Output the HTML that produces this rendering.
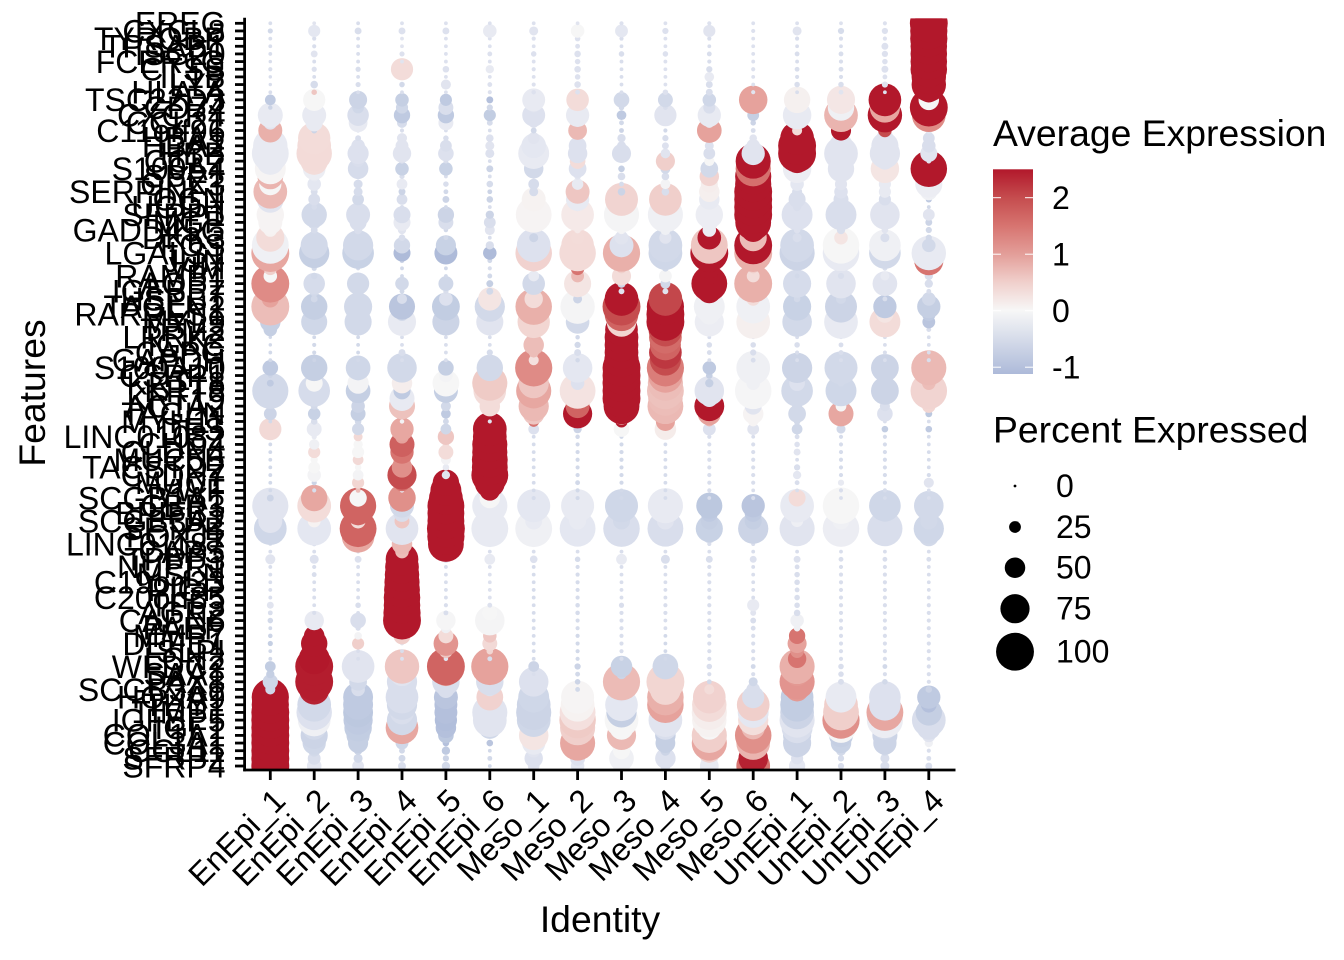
<!DOCTYPE html>
<html lang="en">
<head>
<meta charset="utf-8">
<title>Dot plot of marker gene expression</title>
<style>
html,body{margin:0;padding:0;background:#fff;}
svg{display:block;font-family:"Liberation Sans",Arial,Helvetica,sans-serif;}
</style>
</head>
<body>
<svg id="chart" width="1344" height="960" viewBox="0 0 1344 960" xmlns="http://www.w3.org/2000/svg">
<defs>
<clipPath id="panel-clip"><rect x="245" y="18.4" width="711" height="751.6"></rect></clipPath>
<linearGradient id="cbar" x1="0" y1="1" x2="0" y2="0">
<stop offset="0" stop-color="#adbad9"/><stop offset="0.31" stop-color="#f7f7f7"/><stop offset="0.45" stop-color="#f0cfcb"/><stop offset="0.586" stop-color="#e39e99"/><stop offset="0.724" stop-color="#d77470"/><stop offset="0.862" stop-color="#c54c4e"/><stop offset="1" stop-color="#b2182b"/>
</linearGradient>
</defs>
<g id="dots" clip-path="url(#panel-clip)"></g>
<g id="axes"></g>
<text transform="translate(45,393) rotate(-90)" text-anchor="middle" font-size="37.33">Features</text>
<text x="600" y="932" text-anchor="middle" font-size="37.33">Identity</text>
<g>
<text x="993" y="146" font-size="37.33">Average Expression</text>
<rect x="993" y="169.3" width="40" height="204.7" fill="url(#cbar)"></rect>
<g id="cbar-ticks"></g>
</g>
<g id="size-legend">
<text x="993" y="442.5" font-size="37.33">Percent Expressed</text>
</g>
</svg>
<script>
const idents = ["EnEpi_1","EnEpi_2","EnEpi_3","EnEpi_4","EnEpi_5","EnEpi_6","Meso_1","Meso_2","Meso_3","Meso_4","Meso_5","Meso_6","UnEpi_1","UnEpi_2","UnEpi_3","UnEpi_4"];
const features = ["EREG","CXCL8","TYROBP","TPSAB1","ISG20","FCER1G","CTSS","IL1B","LYZ","HLA-A",
"TSC22D3","CD74","CXCR4","CCL21","C11orf96","HBA1","HBA2","HBB","CCL2","S100A4",
"SPP1","GPX3","SERPINF1","OGN","UGDH","SFRP1","MGP","GADD45G","DKK3","FOS",
"LGALS1","JUN","VIM","RAMP1","AQP1","IGFBP7","HSPB1","TAGLN2","RARRES1","MYL9",
"TPM2","LRRK2","IGKC","CAPG","GAPDH","S100A10","CSRP1","KRT18","KRT8","KRT19",
"ACTA2","TAGLN","MYH11","DES","LINC01082","CHD4","CLDN4","MUC5B","TACSTD2","CLDN7",
"MUC1","VWF","SCGB1A1","CBR3","BPIFB1","SCGB3A2","SFTPB","FOXJ1","LINC01187","CAPS",
"TPPP3","NUPR1","MSLN","C19orf33","PIGR","C20orf85","TFF3","AGR2","CAPN6","PAEP",
"MMP7","DEFB1","SLPI","LCN2","WFDC2","SAA1","PAX8","SCGB3A1","HOXA9","THY1",
"TIMP1","IGFBP5","IGF1","COL1A1","COL3A1","CCL11","SFRP2","SFRP4"];

const pct_EnEpi_1 = [2,6,2,2,2,1,3,1,1,2,
22,4,63,30,60,60,90,97,70,80,
65,55,88,68,20,70,60,30,72,97,
100,30,30,30,100,40,40,100,40,50,
30,1,1,2,2,36,5,11,95,40,
15,28,2,55,2,2,2,2,2,2,
2,2,11,95,60,60,85,30,2,2,
20,2,2,2,2,2,11,5,7,2,
4,6,2,2,22,15,35,20,98,98,
100,100,100,100,100,100,100,100];
const exp_EnEpi_1 = [-.4,-.5,-.4,-.4,-.4,-.4,-.4,-.4,-.4,-.4,
-.8,-.6,-.2,-.3,.85,-.2,-.2,-.2,-.2,.02,
.8,0,.75,-.3,-.3,.03,.03,.05,.3,-.1,
.95,.5,.5,0,1.25,1,1,.7,-.6,-.7,
-.7,-.5,-.5,-.5,-.5,-.8,-.6,-.8,-.5,-.5,
-.6,-.6,-.5,.35,-.5,-.5,-.5,-.5,-.5,-.5,
-.5,-.5,-.6,-.3,-.3,-.3,-.55,-.4,-.4,-.4,
-.3,-.4,-.4,-.4,-.4,-.4,-.3,-.4,-.5,-.5,
-.6,-.7,-.5,-.5,-.75,-.7,-.55,-.55,2.5,2.5,
2.5,2.5,2.5,2.5,2.5,2.5,2.5,2.5];

const pct_EnEpi_2 = [2,26,3,3,11,2,6,2,13,7,
55,40,60,40,8,84,88,93,70,56,
20,30,11,25,7,64,30,11,30,69,
78,20,6,10,53,20,11,67,30,66,
20,2,3,3,2,67,20,40,82,30,
11,27,10,34,6,21,26,12,25,30,
6,3,67,88,40,28,88,30,5,2,
17,3,5,2,2,2,2,3,47,20,
50,67,60,80,100,90,100,78,70,88,
93,85,60,69,58,25,28,33];
const exp_EnEpi_2 = [-.3,-.25,-.4,-.4,-.3,-.4,-.35,-.4,-.45,.6,
0,-.2,-.2,-.2,-.6,.3,.32,.32,.3,-.15,
-.2,-.25,-.4,-.4,-.45,-.5,-.45,-.45,-.5,-.5,
-.7,-.5,-.5,-.5,-.45,-.5,-.5,-.7,-.55,-.55,
-.55,-.5,-.5,-.5,-.6,-.7,-.2,0,-.45,-.4,
-.5,-.65,-.4,-.2,-.2,-.1,.3,0,0,-.05,
-.6,-.4,.95,.3,.3,.05,-.25,-.3,-.4,-.4,
-.35,-.4,-.4,-.4,-.4,-.4,-.4,-.4,-.2,2.5,
2.5,2.5,2.5,2.5,2.45,2.45,2.45,2.4,-.5,-.5,
-.35,-.1,-.5,-.6,-.55,-.5,-.4,-.25];

const pct_EnEpi_3 = [2,11,2,2,2,2,6,2,6,2,
43,25,53,45,3,8,30,52,25,50,
8,17,17,25,2,60,40,15,6,78,
82,3,3,10,55,10,11,72,30,69,
10,2,2,2,2,62,20,52,62,30,
30,34,10,26,17,18,26,22,10,22,
26,5,41,95,60,34,97,85,30,2,
11,2,2,2,2,2,7,2,36,6,
13,26,2,2,85,30,42,30,77,77,
77,75,70,58,49,15,17,25];
const exp_EnEpi_3 = [-.4,-.4,-.4,-.4,-.4,-.4,-.4,-.4,-.4,-.4,
-.6,-.55,-.4,-.2,-.4,-.4,-.35,-.35,-.4,-.45,
-.45,-.45,-.45,-.5,-.4,-.4,-.4,-.4,-.5,-.5,
-.65,-.5,-.5,-.5,-.5,-.5,-.5,-.5,-.5,-.5,
-.5,-.5,-.5,-.5,-.5,-.55,-.3,-.05,-.7,-.6,
-.6,-.7,-.5,-.5,.35,0,0,.35,0,-.05,
.4,.7,0,1.7,1.7,.3,1.7,.95,.8,-.4,
-.35,-.4,-.4,-.4,-.4,-.4,-.4,-.4,-.4,-.4,
-.05,.5,-.4,-.4,-.3,-.3,-.5,-.4,-.8,-.8,
-.85,-.8,-.75,-.7,-.7,-.6,-.5,-.3];

const pct_EnEpi_4 = [2,11,2,2,6,2,55,2,7,2,
30,26,38,20,3,20,28,44,6,30,
6,22,11,22,3,40,40,15,10,38,
40,5,2,2,30,5,20,66,30,72,
20,2,2,11,2,76,20,50,40,63,
66,5,4,58,30,63,58,40,50,75,
40,4,70,60,40,34,85,35,50,30,
85,88,90,92,94,96,96,98,100,58,
40,2,2,2,90,60,78,50,85,78,
60,78,85,40,28,8,11,14];
const exp_EnEpi_4 = [-.35,-.35,-.3,-.3,-.35,-.3,.3,-.4,-.5,-.4,
-.7,-.55,-.8,-.45,-.4,-.3,-.3,-.3,-.4,-.65,
-.4,-.2,-.6,-.4,-.4,-.4,-.2,-.3,-.4,-.5,
-1.1,-.6,-.5,-.5,-.5,-.5,-.4,-.9,-.5,-.2,
-.3,-.4,-.4,-.4,-.4,-.5,-.1,.1,-.8,-.2,
.65,.5,-.05,.95,1,1.75,1.5,1.2,1.2,2,
1.5,-.2,1.2,-.5,-.4,.6,-.3,-.4,.75,.7,
2.5,2.5,2.5,2.5,2.5,2.5,2.5,2.5,2.5,.6,
.5,-.3,-.4,-.35,.6,-.3,-.4,-.4,-.4,-.5,
-.4,-.5,.95,.9,-.55,-.5,-.5,-.4];

const pct_EnEpi_5 = [2,11,2,2,2,2,10,2,20,2,
26,34,38,34,2,7,25,36,5,30,
2,7,5,11,2,38,34,4,5,49,
57,3,2,2,34,6,30,71,30,69,
15,2,2,2,2,36,30,68,60,20,
20,19,8,22,38,10,34,20,10,15,
67,80,88,97,97,97,100,98,94,20,
12,2,2,2,2,2,3,5,47,20,
34,62,30,4,100,60,70,40,60,57,
57,55,50,36,10,15,9,15];
const exp_EnEpi_5 = [-.35,-.35,-.35,-.35,-.35,-.35,-.35,-.35,-.3,-.35,
-.8,-.4,-.8,-.2,-.4,-.4,-.4,-.35,-.4,-.65,
-.4,-.4,-.5,-.6,-.5,-.6,-.4,-.5,-.5,-.65,
-1.1,-.5,-.5,-.5,-.55,-.4,-.35,-.75,-.6,-.6,
-.6,-.4,-.4,-.4,-.4,-.7,-.05,0,-.7,-.6,
-.5,-.8,-.5,-.55,.6,.3,.3,-.05,-.2,-.3,
2.5,2.5,2.5,2.5,2.5,2.5,2.5,2.5,2.5,-.35,
-.35,-.4,-.4,-.4,-.4,-.4,-.4,-.4,-.02,-.1,
.3,1.15,.6,-.3,1.7,1,-.4,-.4,-.9,-1,
-1,-1.05,-1,-.85,-1,-.8,-.6,-.5];

const pct_EnEpi_6 = [2,30,2,2,5,2,15,2,5,3,
11,9,26,8,2,13,17,17,2,11,
2,10,5,10,2,15,25,20,2,15,
30,5,3,5,11,11,58,78,30,69,
10,2,2,9,2,67,15,92,85,40,
50,2,3,88,88,92,92,94,94,97,
78,50,50,92,60,60,97,40,5,2,
22,2,2,2,2,2,5,34,76,20,
30,34,10,5,98,50,70,30,68,50,
92,88,55,5,10,2,5,2];
const exp_EnEpi_6 = [-.35,-.2,-.35,-.35,-.35,-.35,-.2,-.35,-.35,-.35,
-1,-.5,-.75,-.45,-.4,-.35,-.3,-.35,-.4,-.6,
-.4,-.45,-.6,-.6,-.4,-.6,-.4,-.3,-.4,-.4,
-1.1,-.5,-.4,-.5,-.7,-.5,.2,-.5,-.4,-.3,
-.4,-.4,-.4,-.45,-.5,-.5,-.5,.55,.3,.3,
.3,-.3,-.3,2.5,2.5,2.5,2.5,2.5,2.5,2.5,
2.5,2.5,0,-.2,-.2,-.2,-.2,-.3,-.4,-.4,
-.2,-.35,-.35,-.35,-.35,-.35,-.35,0,-.03,0,
.6,.35,.4,-.4,1,.8,-.4,-.35,.45,-.3,
-.3,-.3,-.55,-.5,-.9,-.5,-.5,-.5];

const pct_Meso_1 = [2,17,3,2,7,2,3,2,3,4,
57,20,57,20,8,25,62,80,20,47,
5,22,17,60,2,94,40,2,17,88,
96,20,10,22,56,10,44,96,50,84,
30,30,50,20,20,98,30,78,92,50,
78,53,22,22,2,2,2,2,2,2,
2,2,3,86,40,40,97,30,5,2,
13,2,2,2,2,2,2,2,2,2,
2,2,2,2,22,2,76,30,80,88,
92,88,40,76,58,30,44,25];
const exp_Meso_1 = [-.35,-.3,-.35,-.35,-.35,-.35,-.35,-.35,-.35,-.35,
-.2,-.3,-.35,-.35,-.5,-.3,-.25,-.2,-.3,-.5,
-.4,-.45,-.45,.05,-.4,.03,.03,.03,-.6,-.35,
.45,.4,.4,-.2,-.5,.3,.3,.85,.4,.4,
.7,.7,.7,.7,.25,1.25,.6,.6,.95,.8,
.75,.6,1.5,-.35,-.45,-.45,-.45,-.45,-.45,-.45,
-.45,-.45,-.45,-.25,-.2,-.2,-.1,-.2,-.3,-.4,
-.35,-.45,-.45,-.45,-.45,-.45,-.45,-.45,-.45,-.45,
-.45,-.45,-.45,-.45,-.6,-.4,-.35,-.4,-.55,-.6,
-.6,-.55,-.5,.2,-.2,-.3,-.35,-.3];

const pct_Meso_2 = [2,30,7,5,10,7,10,7,10,5,
56,30,58,15,45,15,42,47,36,42,
10,24,60,58,15,85,30,10,28,85,
96,20,30,28,69,10,17,90,30,59,
10,4,9,11,4,76,30,30,94,30,
60,75,25,15,4,3,3,3,3,3,
5,3,3,86,40,40,94,30,3,2,
7,3,3,3,3,3,4,4,3,3,
3,3,3,3,9,5,7,5,86,88,
94,96,92,32,92,46,34,30];
const exp_Meso_2 = [-.3,0,-.35,-.35,-.35,-.35,-.35,-.35,-.35,-.35,
.3,-.2,-.2,-.3,.75,-.35,-.35,-.35,.3,-.35,
-.3,-.2,.6,-.2,-.3,.15,.15,.15,.3,.32,
.32,.3,1.5,.75,.2,-.4,-.6,-.03,-.4,-.5,
-.5,-.5,-.5,-.4,-.5,-.25,-.3,-.35,.22,.2,
1.7,2.5,2.4,-.6,-.5,-.5,-.5,-.5,-.5,-.5,
-.5,-.5,-.5,-.2,-.2,-.2,-.25,-.25,-.4,-.4,
-.45,-.45,-.45,-.45,-.45,-.45,-.45,-.45,-.45,-.45,
-.5,-.5,-.5,-.5,-.6,-.5,-.6,-.5,.02,.05,
.25,.55,.5,.2,.95,-.3,-.35,-.25];

const pct_Meso_3 = [3,28,3,2,7,2,2,2,2,2,
36,7,19,5,5,15,17,46,2,10,
13,5,13,86,20,92,40,15,30,60,
98,30,20,46,15,8,88,100,88,76,
85,88,88,88,90,100,100,100,100,100,
94,53,26,36,3,3,3,3,3,3,
3,2,2,86,40,40,96,30,4,2,
22,2,2,2,2,2,6,3,3,3,
3,3,3,3,53,20,98,60,60,85,
78,88,60,75,50,40,62,40];
const exp_Meso_3 = [-.35,-.25,-.4,-.4,-.4,-.4,-.4,-.4,-.4,-.4,
-.5,-.5,-.8,-.5,-.6,-.4,-.4,-.4,-.5,-.7,
-.4,-.45,-.6,.42,-.1,-.03,-.03,-.05,-.3,-.35,
.85,.6,.5,.3,-.6,-.3,2.5,2,1.7,.4,
2.5,2.5,2.5,2.5,2.5,2.5,2.5,2.5,2.5,2.5,
2.5,.7,2.5,0,-.5,-.5,-.5,-.5,-.5,-.5,
-.5,-.5,-.5,-.55,-.55,-.5,-.4,-.4,-.4,-.4,
-.2,-.4,-.4,-.4,-.4,-.4,-.4,-.4,-.4,-.4,
-.4,-.4,-.4,-.4,-.65,-.6,.72,-.3,-.25,-.25,
-.7,0,0,.75,0,0,-.1,-.1];

const pct_Meso_4 = [2,9,2,2,7,2,2,2,2,7,
34,5,55,2,3,9,11,19,46,20,
13,20,13,85,10,92,40,20,26,88,
88,15,10,28,20,8,88,98,100,100,
88,85,80,85,80,98,90,92,97,90,
94,36,46,53,2,2,2,2,2,2,
2,2,2,92,40,40,94,30,4,2,
17,2,2,2,2,2,3,3,2,2,
2,2,2,2,65,20,100,80,96,96,
80,88,60,50,48,20,50,20];
const exp_Meso_4 = [-.35,-.35,-.35,-.35,-.35,-.35,-.35,-.35,-.35,-.35,
-.5,-.4,-.3,-.4,-.5,-.4,-.35,-.3,.5,-.5,
-.4,-.05,-.4,.5,-.1,-.1,-.1,-.1,-.3,-.5,
-.55,-.5,-.5,-.03,-.5,-.3,2.05,2.5,2.5,2.5,
2,1.6,1.7,2.2,2,1.4,1,.7,.65,.7,
.75,-.7,1,.12,-.45,-.45,-.45,-.45,-.45,-.45,
-.45,-.45,-.45,-.2,-.2,-.3,-.4,-.4,-.4,-.4,
-.4,-.4,-.4,-.4,-.4,-.4,-.4,-.4,-.4,-.4,
-.5,-.5,-.5,-.5,-.55,-.5,.4,.4,.85,1,
-.3,-.3,-.4,-.7,-.7,-.6,-.35,-.35];

const pct_Meso_5 = [3,26,3,2,5,3,9,19,11,11,
30,26,58,20,62,20,17,25,20,42,
47,40,50,50,40,70,40,30,59,97,
100,60,50,40,94,60,10,80,50,75,
30,2,7,5,2,30,10,15,76,40,
77,57,20,28,3,3,3,3,3,3,
3,3,2,66,40,40,69,30,3,2,
11,3,3,3,3,3,3,3,3,3,
3,3,3,3,7,3,5,20,85,90,
92,90,60,92,92,60,40,45];
const exp_Meso_5 = [-.35,-.3,-.4,-.4,-.4,-.4,-.4,-.2,-.4,-.4,
-.55,-.4,-.2,-.2,1,-.3,-.35,-.4,0,-.5,
.42,.1,.08,-.2,-.15,-.15,-.15,-.15,2.5,.6,
2.5,2.5,2.5,2.5,2.5,2.5,-.1,-.1,-.1,-.15,
-.2,-.4,-.4,-.4,-.4,-.8,-.7,-.7,-.3,-.3,
2.5,1,.8,-.35,-.4,-.4,-.4,-.4,-.4,-.4,
-.4,-.4,-.4,-.85,-.8,-.7,-.65,-.5,-.4,-.4,
-.4,-.4,-.4,-.4,-.4,-.4,-.4,-.4,-.4,-.4,
-.4,-.4,-.4,-.4,-.4,-.4,-.5,.3,.45,.3,
.1,.05,0,.5,.95,.5,-.2,-.2];

const pct_Meso_6 = [2,3,2,2,2,2,3,2,2,3,
73,20,25,7,5,13,30,58,92,92,
95,95,100,100,100,100,94,60,69,100,
100,30,20,28,100,30,30,88,30,88,
30,2,7,9,5,88,40,30,96,40,
40,50,20,25,2,3,3,3,3,3,
3,2,3,58,40,40,78,30,3,2,
11,2,2,2,2,2,26,8,8,5,
3,3,3,3,5,3,17,30,55,85,
80,78,58,96,88,40,76,88];
const exp_Meso_6 = [-.35,-.35,-.35,-.35,-.35,-.35,-.35,-.35,-.35,-.3,
1,-.5,-.7,-.6,-.4,-.3,-.3,-.3,2.5,1.55,
2.5,2.5,2.5,2.5,2.5,2.5,2.5,2.5,.7,2.5,
.85,.7,.5,.3,.85,.3,.3,-.1,-.1,.08,
.1,-.4,-.4,-.4,-.4,-.1,-.1,-.1,-.02,-.02,
-.3,.03,.03,-.3,-.4,-.4,-.4,-.4,-.4,-.4,
-.4,-.4,-.4,-.9,-.8,-.7,-.6,-.5,-.4,-.4,
-.35,-.4,-.4,-.4,-.4,-.4,-.2,-.3,-.4,-.4,
-.4,-.4,-.4,-.4,-.5,-.4,-.55,-.4,-.4,.5,
-.25,.28,.75,1.2,.8,.8,2.4,1.5];

const pct_UnEpi_1 = [2,17,3,2,5,2,5,3,7,2,
67,40,73,20,20,88,100,100,60,73,
20,30,20,40,15,80,30,10,17,88,
92,10,5,5,72,10,10,72,40,76,
20,2,7,3,2,78,15,36,82,30,
20,42,10,22,5,7,11,2,9,15,
5,2,40,88,40,26,92,30,3,2,
11,5,7,7,5,7,7,10,30,10,
38,46,30,44,92,60,92,60,85,88,
88,92,80,72,72,30,26,38];
const exp_UnEpi_1 = [-.35,-.3,-.4,-.4,-.4,-.4,-.4,-.4,-.4,-.4,
.07,-.2,-.2,-.2,.3,2.5,2.5,2.5,2.5,-.15,
-.2,-.25,-.4,-.4,-.4,-.35,-.35,-.35,-.4,-.5,
-.6,-.5,-.5,-.5,-.45,-.5,-.5,-.65,-.5,-.5,
-.5,-.4,-.4,-.4,-.4,-.6,-.4,-.35,-.5,-.5,
-.5,-.5,-.5,-.55,-.4,-.35,-.3,-.4,-.4,-.25,
-.4,-.4,.3,-.2,-.2,-.12,-.3,-.3,-.4,-.4,
-.35,-.4,-.4,-.4,-.4,-.4,-.4,-.4,-.1,-.1,
1.5,1,1.2,1.5,.85,1.1,1.15,1.1,-.75,-.75,
-.6,-.3,-.4,-.6,-.6,-.5,-.35,-.25];

const pct_UnEpi_2 = [2,9,3,2,5,3,5,3,7,5,
72,67,88,30,49,30,60,88,50,67,
20,26,30,34,10,80,30,15,30,96,
96,10,10,9,76,10,20,83,30,88,
30,2,5,5,2,86,20,11,80,30,
22,63,10,17,3,3,3,3,3,3,
9,3,2,96,40,40,96,30,3,2,
5,3,3,3,3,3,3,3,3,3,
3,3,3,3,7,7,8,30,80,88,
94,98,78,60,50,20,9,9];
const exp_UnEpi_2 = [-.35,-.45,-.4,-.4,-.4,-.4,-.4,-.4,-.4,-.3,
.18,-.1,.8,.8,2.5,-.3,-.3,-.3,-.3,-.3,
-.3,-.3,-.35,-.4,-.4,-.4,-.4,-.4,.2,0,
-.2,-.3,-.4,-.4,-.3,-.4,-.5,-.6,-.4,-.2,
-.2,-.4,-.4,-.4,-.4,-.5,-.5,-.5,-.55,-.5,
0,.95,.5,-.5,-.45,-.45,-.45,-.45,-.45,-.45,
-.2,-.4,-.4,0,0,-.1,-.15,-.15,-.4,-.4,
-.4,-.4,-.4,-.4,-.4,-.4,-.4,-.4,-.4,-.4,
-.4,-.4,-.4,-.4,-.4,-.4,-.4,-.2,-.2,.5,
.5,1.2,0,-.7,-.65,-.5,-.45,-.4];

const pct_UnEpi_3 = [3,9,3,11,9,7,11,5,9,2,
85,78,90,30,30,40,69,78,40,73,
30,26,26,26,10,76,30,10,17,82,
82,15,5,17,62,5,5,58,40,80,
20,2,2,3,2,71,15,11,71,20,
20,36,2,10,3,3,3,3,3,3,
3,3,2,82,40,40,92,30,3,2,
5,3,3,3,3,3,3,3,3,3,
3,3,3,3,5,3,7,30,82,82,
97,95,60,63,58,20,17,17];
const exp_UnEpi_3 = [-.35,-.35,-.35,-.35,-.35,-.35,-.35,-.35,-.3,-.35,
2.5,.95,2.5,2.5,2,-.3,-.3,-.3,-.3,.2,
-.2,-.2,-.2,-.4,-.3,-.3,-.3,-.3,-.4,-.1,
-.5,-.5,-.4,-.2,-.3,-.4,-.4,-.8,.2,.3,
.2,-.4,-.4,-.4,-.4,-.6,-.5,-.6,-.6,-.4,
-.4,-.35,-.4,-.75,-.45,-.45,-.45,-.45,-.45,-.45,
-.45,-.45,-.45,-.55,-.5,-.4,-.4,-.4,-.4,-.4,
-.4,-.4,-.4,-.4,-.4,-.4,-.4,-.4,-.4,-.4,
-.4,-.4,-.4,-.4,-.5,-.4,-.5,-.35,-.35,-.35,
.95,-.15,-.5,-.6,-.6,-.5,-.4,-.4];

const pct_UnEpi_4 = [100,98,98,96,96,96,96,90,90,50,
50,100,88,30,10,25,30,40,5,96,
50,69,40,9,2,25,11,9,9,30,
90,75,15,15,15,5,30,58,30,28,
5,2,2,2,3,92,40,30,96,30,
30,11,2,10,2,2,2,2,2,3,
20,2,2,76,40,40,78,48,3,2,
5,2,2,2,2,2,3,3,3,3,
3,3,3,3,3,3,3,10,58,36,
67,88,60,30,15,3,5,11];
const exp_UnEpi_4 = [2.5,2.5,2.5,2.5,2.5,2.5,2.5,2.5,2.5,2.5,
0,2.5,1.25,.8,-.3,-.4,-.4,-.3,-.3,2.5,
0,-.15,-.1,-.8,-.5,-.3,-.6,-.5,-.5,-.5,
-.2,1.5,-.3,-.4,-.4,-.4,-.5,-.7,-.8,-.9,
-.4,-.4,-.4,-.4,-.4,.75,.75,.7,.42,.4,
.4,-.85,-.4,-.8,-.45,-.45,-.45,-.45,-.45,-.45,
-.3,-.4,-.4,-.5,-.5,-.5,-.55,-.5,-.4,-.4,
-.4,-.4,-.4,-.4,-.4,-.4,-.4,-.4,-.4,-.4,
-.4,-.4,-.4,-.4,-.4,-.4,-.4,-.6,-.8,-1,
-.7,-.4,-.4,-.3,-.1,-.4,-.4,-.4];

const pctSeries = [pct_EnEpi_1,pct_EnEpi_2,pct_EnEpi_3,pct_EnEpi_4,pct_EnEpi_5,pct_EnEpi_6,pct_Meso_1,pct_Meso_2,pct_Meso_3,pct_Meso_4,pct_Meso_5,pct_Meso_6,pct_UnEpi_1,pct_UnEpi_2,pct_UnEpi_3,pct_UnEpi_4];
const expSeries = [exp_EnEpi_1,exp_EnEpi_2,exp_EnEpi_3,exp_EnEpi_4,exp_EnEpi_5,exp_EnEpi_6,exp_Meso_1,exp_Meso_2,exp_Meso_3,exp_Meso_4,exp_Meso_5,exp_Meso_6,exp_UnEpi_1,exp_UnEpi_2,exp_UnEpi_3,exp_UnEpi_4];
const colorTicks = [2,1,0,-1];
const sizeBreaks = [0,25,50,75,100];

const NS = "http://www.w3.org/2000/svg";
function xScale(i){ return 270.3 + 43.9 * i; }
function yScale(k){ return 23.3 + 7.657 * k; }
function radius(p){ return 1.55 + 0.174 * p; }
function cbarY(v){ return 310.7 - 56.5 * v; }
const colorDomain = [-1.12,-.7,-.4,-.2,0,.3,.5,1,1.5,2,2.5];
const colorRange = [[173,186,217],[197,207,227],[217,222,236],[232,234,242],[246,246,246],[243,220,217],[240,207,203],[230,162,156],[215,116,112],[197,76,78],[178,24,43]];
function color(v){
  v = Math.max(colorDomain[0], Math.min(2.5, v));
  for (let i = 0; i < colorDomain.length - 1; i++) {
    if (v <= colorDomain[i + 1]) {
      const t = (v - colorDomain[i]) / (colorDomain[i + 1] - colorDomain[i]);
      const a = colorRange[i], b = colorRange[i + 1];
      return "rgb(" + Math.round(a[0] + (b[0] - a[0]) * t) + "," + Math.round(a[1] + (b[1] - a[1]) * t) + "," + Math.round(a[2] + (b[2] - a[2]) * t) + ")";
    }
  }
  return "rgb(178,24,43)";
}
function make(tag, attrs, parent){
  const el = document.createElementNS(NS, tag);
  for (const key in attrs) el.setAttribute(key, attrs[key]);
  parent.appendChild(el);
  return el;
}

const dotsLayer = document.getElementById("dots");
idents.forEach(function(id, i){
  for (let k = features.length - 1; k >= 0; k--) {
    const c = make("circle", {cx: xScale(i), cy: yScale(k), r: radius(pctSeries[i][k]), fill: color(expSeries[i][k])}, dotsLayer);
    
    
  }
});

const axes = document.getElementById("axes");
const yLine = make("line", {x1: 244.6, x2: 244.6, y1: 17.7, y2: 771.3, stroke: "#000", "stroke-width": 2.8}, axes);


const xLine = make("line", {x1: 243.2, x2: 955.5, y1: 770, y2: 770, stroke: "#000", "stroke-width": 2.8}, axes);



features.forEach(function(name, k){
  const y = yScale(k);
  const tick = make("line", {x1: 235, x2: 244, y1: y, y2: y, stroke: "#000", "stroke-width": 2.8}, axes);
  
  
  const label = make("text", {x: 225.5, y: y + 11.3, "text-anchor": "end", "font-size": 32}, axes);
  
  
  label.textContent = name;
});

idents.forEach(function(name, i){
  const x = xScale(i);
  const tick = make("line", {x1: x, x2: x, y1: 771, y2: 780, stroke: "#000", "stroke-width": 2.8}, axes);
  
  
  const label = make("text", {transform: "translate(" + (x + 17) + ",802.5) rotate(-45)", "text-anchor": "end", "font-size": 32}, axes);
  
  
  label.textContent = name;
});

const cbarTicks = document.getElementById("cbar-ticks");
colorTicks.forEach(function(v){
  const y = cbarY(v);
  const left = make("line", {x1: 993, x2: 1001, y1: y, y2: y, stroke: "#fff", "stroke-width": 1}, cbarTicks);
  
  
  const right = make("line", {x1: 1025, x2: 1033, y1: y, y2: y, stroke: "#fff", "stroke-width": 1}, cbarTicks);
  
  
  const t = make("text", {x: 1052, y: y + 11.5, "font-size": 32}, cbarTicks);
  
  
  t.textContent = String(v);
});

const sizeLegend = document.getElementById("size-legend");
const legendY = [486, 527, 567.7, 608.7, 651.7];
sizeBreaks.forEach(function(p, i){
  const c = make("circle", {cx: 1015, cy: legendY[i], r: p === 0 ? 1.4 : radius(p), fill: "#000"}, sizeLegend);
  
  
  const t = make("text", {x: 1056, y: legendY[i] + 11, "font-size": 32}, sizeLegend);
  
  
  t.textContent = String(p);
});
</script>
</body>
</html>
